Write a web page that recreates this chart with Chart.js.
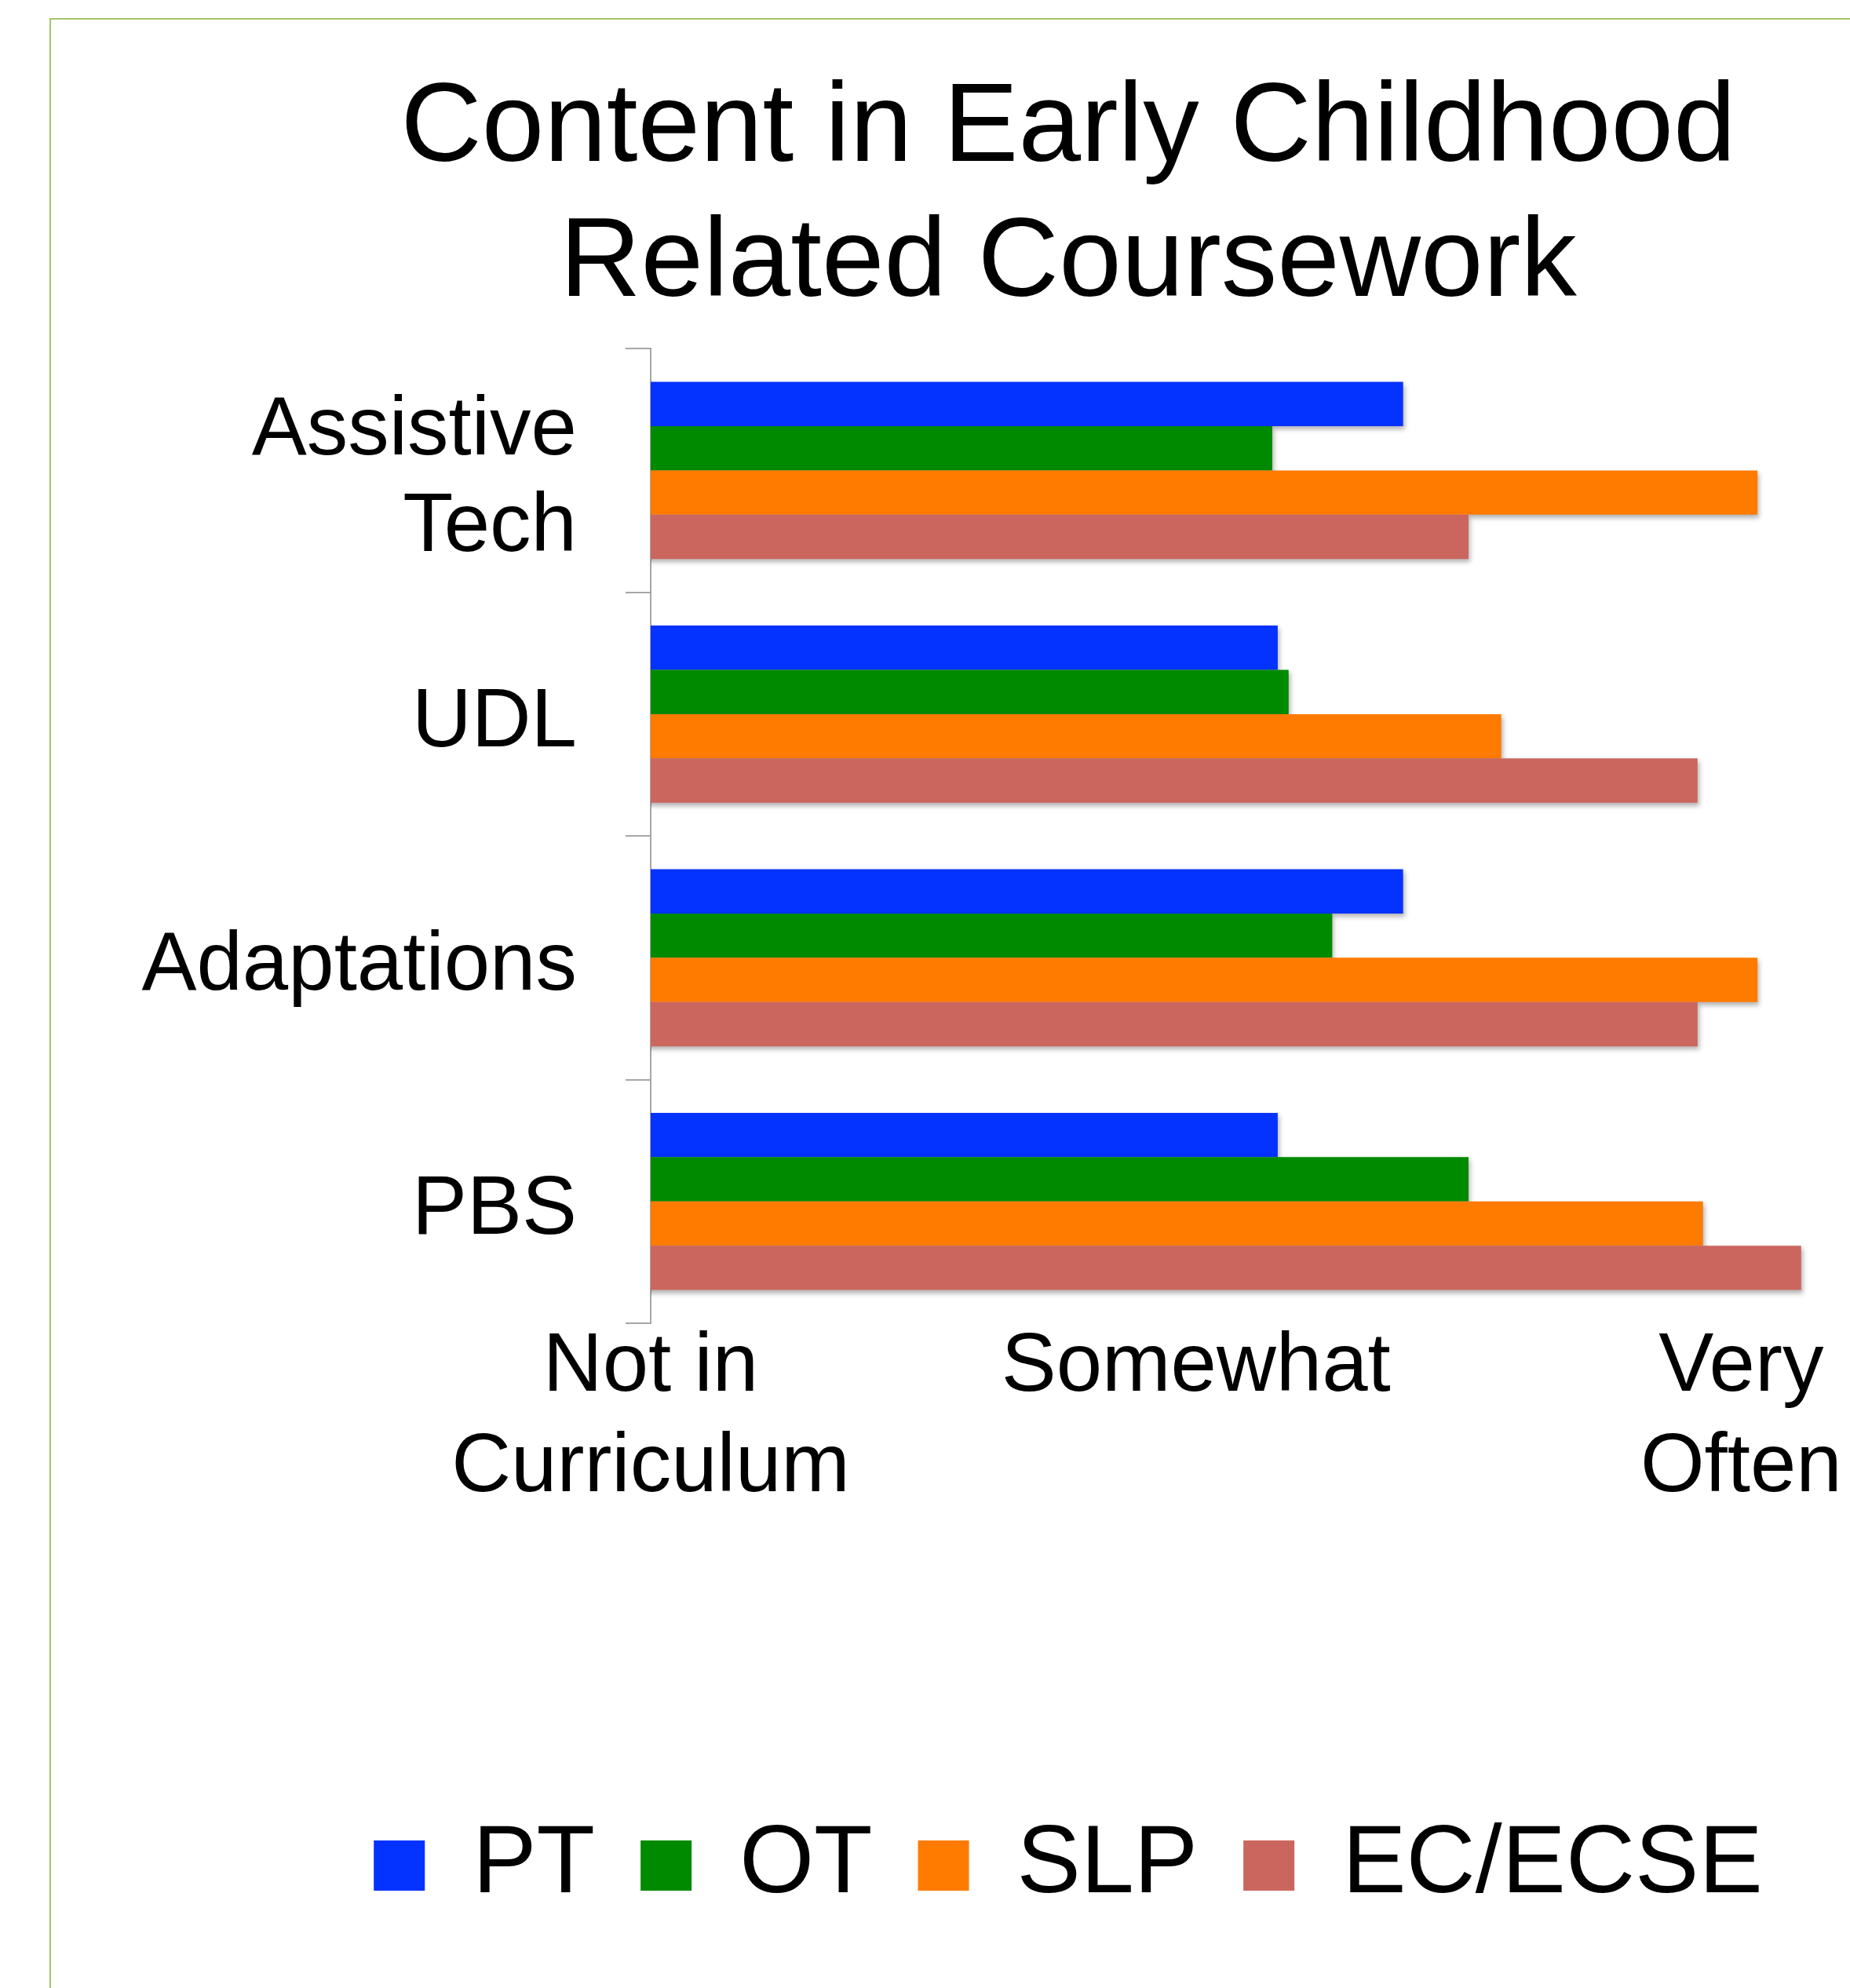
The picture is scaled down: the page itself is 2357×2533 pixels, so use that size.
<!DOCTYPE html>
<html>
<head>
<meta charset="utf-8">
<title>Content in Early Childhood Related Coursework</title>
<script src="https://cdn.jsdelivr.net/npm/chart.js@4.4.1/dist/chart.umd.min.js"></script>
<style>
    html, body { margin: 0; padding: 0; background: #fff; overflow: hidden; }
    body { width: 2357px; height: 2533px; position: relative; }
    /* slide frame, cropped on the right and bottom like the original */
    #frame {
        position: absolute; left: 63px; top: 23px;
        width: 2800px; height: 2700px;
        border-top: 2px solid #a6c66a; border-left: 2px solid #a6c66a;
    }
    #chart-box { position: absolute; left: 66px; top: 26px; width: 2590px; height: 2480px; }
</style>
</head>
<body>
<div id="frame"></div>
<div id="chart-box"><canvas id="chart"></canvas></div>
<script>
let categories = [["Assistive", "Tech"], "UDL", "Adaptations", "PBS"];

let ptValues = [2.38, 2.15, 2.38, 2.15];
let otValues = [2.14, 2.17, 2.25, 2.50];
let slpValues = [3.03, 2.56, 3.03, 2.93];
let ecValues = [2.50, 2.92, 2.92, 3.11];

/* rating scale shown under the bars */
let ratingValues = [1, 2, 3];
let ratingLabels = [["Not in", "Curriculum"], ["Somewhat"], ["Very", "Often"]];

const FONT = "'Liberation Sans', Arial, sans-serif";
Chart.defaults.font.family = FONT;
Chart.defaults.color = "#000";

/* draw series first-to-last so later bars cover the shadow of earlier ones */
const barShadow = {
    id: "barShadow",
    beforeDatasetsDraw(chart) {
        const ctx = chart.ctx;
        const a = chart.chartArea;
        ctx.save();
        ctx.beginPath();
        ctx.rect(a.left, a.top, a.right - a.left, a.bottom - a.top + 20);
        ctx.clip();
        ctx.shadowColor = "rgba(0, 0, 0, 0.3)";
        ctx.shadowBlur = 6;
        ctx.shadowOffsetX = 2;
        ctx.shadowOffsetY = 4;
        chart.getSortedVisibleDatasetMetas().forEach(m => m.controller.draw());
        ctx.restore();
        return false;
    }
};

function series(label, data, color) {
    return {
        label: label,
        data: data,
        backgroundColor: color,
        borderWidth: 0,
        categoryPercentage: 0.727,
        barPercentage: 1.0
    };
}

new Chart(document.getElementById("chart"), {
    type: "bar",
    data: {
        labels: categories,
        datasets: [
            series("PT", ptValues, "#0432ff"),
            series("OT", otValues, "#008a00"),
            series("SLP", slpValues, "#ff7b00"),
            series("EC/ECSE", ecValues, "#cb665e")
        ]
    },
    plugins: [barShadow],
    options: {
        indexAxis: "y",
        responsive: true,
        maintainAspectRatio: false,
        animation: false,
        layout: { autoPadding: false, padding: { bottom: 58 } },
        plugins: {
            title: {
                display: true,
                text: ["Content in Early Childhood", "Related Coursework"],
                font: { size: 143, weight: "normal", lineHeight: 1.2 },
                color: "#000",
                padding: { top: 54, bottom: 21 }
            },
            legend: {
                position: "bottom",
                labels: {
                    boxWidth: 65,
                    boxHeight: 64,
                    padding: 58,
                    font: { size: 122 },
                    color: "#000"
                }
            },
            tooltip: { enabled: false }
        },
        scales: {
            x: {
                type: "linear",
                min: 1,
                max: 3.63,
                afterBuildTicks: s => { s.ticks = ratingValues.map(v => ({ value: v })); },
                afterFit: s => { s.height = 572; },
                grid: { display: false, drawTicks: false },
                border: { display: false },
                ticks: {
                    autoSkip: false,
                    maxRotation: 0,
                    minRotation: 0,
                    padding: -7,
                    font: { size: 105, lineHeight: 1.22 },
                    color: "#000",
                    callback: v => ratingLabels[ratingValues.indexOf(v)]
                }
            },
            y: {
                afterFit: s => { s.width = 763; },
                grid: {
                    drawOnChartArea: false,
                    drawTicks: true,
                    tickLength: 32,
                    color: "#a6a6a6",
                    lineWidth: 2
                },
                border: { display: true, color: "#a6a6a6", width: 2 },
                ticks: {
                    padding: 62,
                    labelOffset: 12,
                    font: { size: 105, lineHeight: 1.17 },
                    color: "#000"
                }
            }
        }
    }
});
</script>
</body>
</html>
